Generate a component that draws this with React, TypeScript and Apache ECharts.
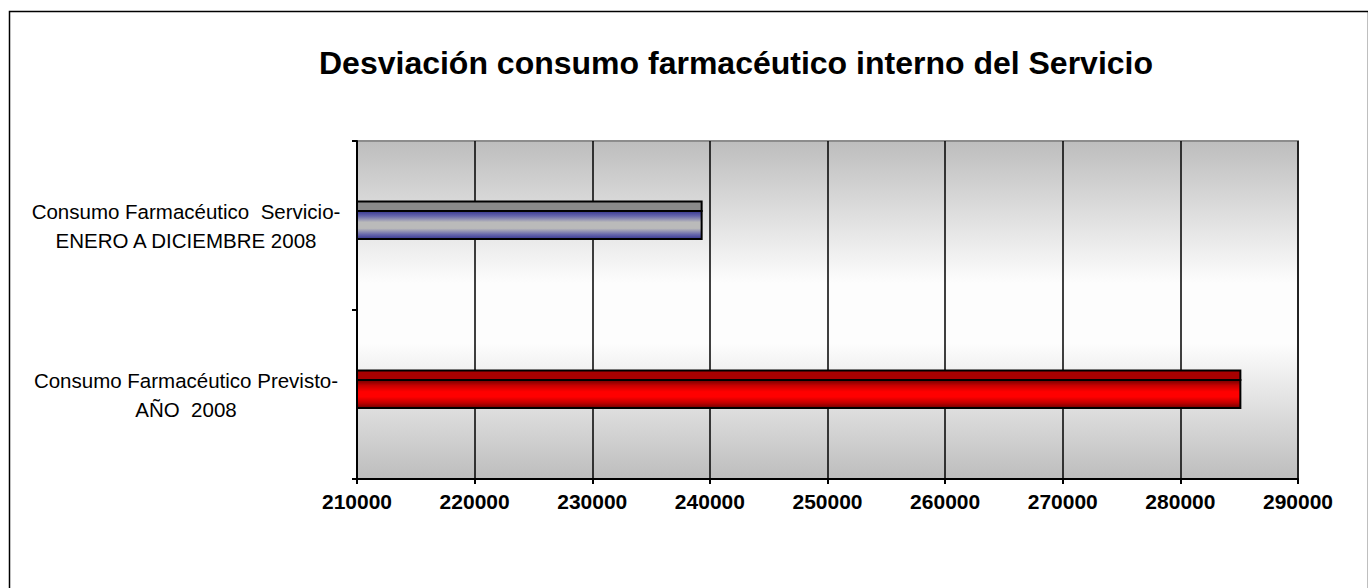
import React, { useEffect, useRef } from "react";
import * as echarts from "echarts";

const TITLE = "Desviación consumo farmacéutico interno del Servicio";
const categories = [
  "Consumo Farmacéutico  Servicio-\nENERO A DICIEMBRE 2008",
  "Consumo Farmacéutico Previsto-\nAÑO  2008",
];
const values = [239300, 285100];
const X_MIN = 210000;
const X_MAX = 290000;
const X_STEP = 10000;

const faceStops = [
  [
    [0, "#363690"],
    [0.18, "#6666ac"],
    [0.4, "#bababa"],
    [0.62, "#bababa"],
    [0.84, "#6666ac"],
    [1, "#363690"],
  ],
  [
    [0, "#700000"],
    [0.2, "#c80000"],
    [0.42, "#ff0000"],
    [0.6, "#ff0000"],
    [0.82, "#c00000"],
    [1, "#700000"],
  ],
];
const topColors = ["#8a8a8a", "#a80000"];

export default function App() {
  const ref = useRef<HTMLDivElement>(null);
  useEffect(() => {
    document.body.style.margin = "0";
    const chart = echarts.init(ref.current!, undefined, { renderer: "svg" });
    const grad = (stops: any[]) =>
      new echarts.graphic.LinearGradient(
        0, 0, 0, 1,
        stops.map(([offset, color]) => ({ offset, color }))
      );
    chart.setOption({
      animation: false,
      backgroundColor: "#ffffff",
      title: {
        text: TITLE,
        left: 731,
        top: 42,
        textAlign: "center",
        textStyle: {
          fontFamily: "Liberation Sans, Arial, sans-serif",
          fontWeight: "bold",
          fontSize: 32,
          color: "#000",
        },
      },
      graphic: [
        {
          type: "rect",
          left: 7,
          top: 9,
          shape: { width: 1359, height: 700 },
          style: { fill: "none", stroke: "#000", lineWidth: 1.5 },
          silent: true,
        },
      ],
      grid: {
        left: 357,
        right: 70,
        top: 141,
        bottom: 109,
        show: true,
        backgroundColor: new echarts.graphic.LinearGradient(0, 0, 0, 1, [
          { offset: 0, color: "#bdbdbd" },
          { offset: 0.42, color: "#fdfdfd" },
          { offset: 0.6, color: "#fdfdfd" },
          { offset: 1, color: "#bdbdbd" },
        ]),
        borderColor: "#8c8c8c",
        borderWidth: 2,
      },
      xAxis: {
        type: "value",
        min: X_MIN,
        max: X_MAX,
        interval: X_STEP,
        axisLine: { show: true, lineStyle: { color: "#000", width: 2 } },
        axisTick: { show: true, length: 5, lineStyle: { color: "#000", width: 2 } },
        splitLine: { show: true, lineStyle: { color: "#000", width: 1.5 } },
        axisLabel: {
          margin: 12,
          formatter: (v: number) => String(v),
          fontFamily: "Liberation Sans, Arial, sans-serif",
          fontWeight: "bold",
          fontSize: 21,
          color: "#000",
        },
      },
      yAxis: {
        type: "category",
        inverse: true,
        data: categories,
        axisLine: { show: true, lineStyle: { color: "#000", width: 2 } },
        axisTick: { show: true, length: 5, lineStyle: { color: "#000", width: 2 } },
        splitLine: { show: false },
        axisLabel: {
          margin: 171,
          align: "center",
          lineHeight: 29,
          fontFamily: "Liberation Sans, Arial, sans-serif",
          fontSize: 20.5,
          color: "#000",
        },
      },
      series: [
        {
          type: "custom",
          encode: { x: 0, y: 1 },
          data: values.map((v, i) => [v, i]),
          renderItem: (params: any, api: any) => {
            const v = api.value(0);
            const c = api.value(1);
            const idx = params.dataIndex;
            const start = api.coord([X_MIN, c]);
            const end = api.coord([v, c]);
            const band = api.size([0, 1])[1];
            const yTop = start[1] - band * 0.142;
            const ySep = start[1] - band * 0.086;
            const yBot = start[1] + band * 0.08;
            const w = end[0] - start[0];
            return {
              type: "group",
              children: [
                {
                  type: "rect",
                  shape: { x: start[0], y: yTop, width: w, height: ySep - yTop },
                  style: { fill: topColors[idx], stroke: "#000", lineWidth: 2 },
                },
                {
                  type: "rect",
                  shape: { x: start[0], y: ySep, width: w, height: yBot - ySep },
                  style: { fill: grad(faceStops[idx]), stroke: "#000", lineWidth: 2 },
                },
              ],
            };
          },
        },
      ],
    });
    return () => chart.dispose();
  }, []);
  return <div ref={ref} style={{ width: 1368, height: 588 }} />;
}
